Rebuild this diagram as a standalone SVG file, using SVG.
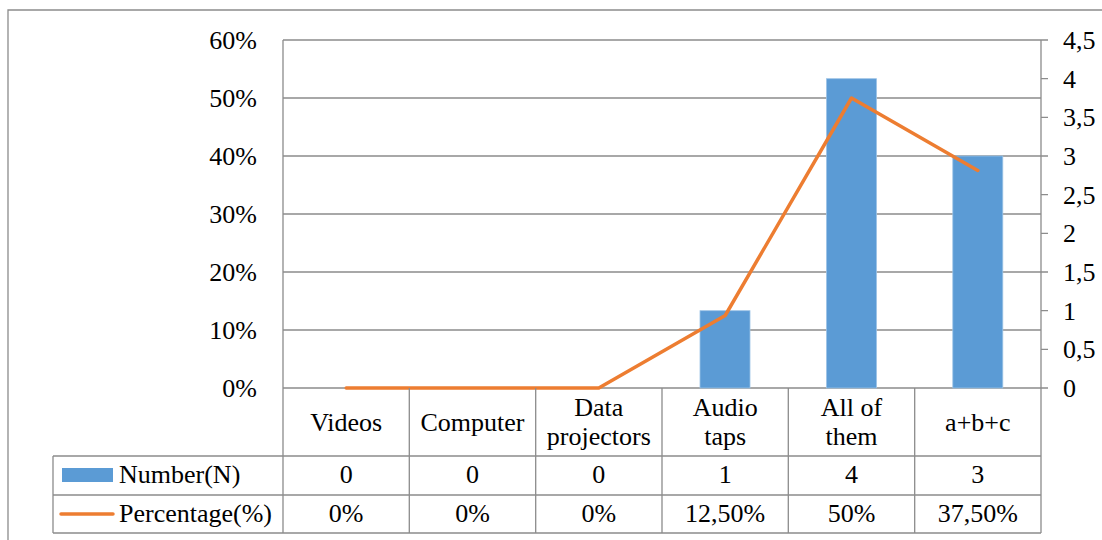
<svg xmlns="http://www.w3.org/2000/svg" width="1102" height="540" viewBox="0 0 1102 540">
<style>
.g{stroke:#8c8c8c;stroke-width:1.3;fill:none}
.t{font-family:'Liberation Serif','Times New Roman',Times,'DejaVu Serif',serif;font-size:26px;fill:#000}
.m{text-anchor:middle}
.e{text-anchor:end}
.bar{fill:#5b9bd5;stroke:#9cc3e6;stroke-width:0.8}
.ln{stroke:#ed7d31;stroke-width:3.5;fill:none;stroke-linejoin:round;stroke-linecap:round}
</style>
<rect x="0" y="0" width="1102" height="540" fill="#fff"/>
<g id="frame">
<path class="g" d="M8,540 V10 H1102"/>
</g>
<g id="grid">
<path class="g" d="M283,40 H1041 M283,98 H1041 M283,156 H1041 M283,214 H1041 M283,272 H1041 M283,330 H1041 M283,388 H1048"/>
<path class="g" d="M283,40 V533 M1041,40 V533"/>
<path class="g" d="M1041,78.7 H1048 M1041,117.3 H1048 M1041,156 H1048 M1041,194.7 H1048 M1041,233.3 H1048 M1041,272 H1048 M1041,310.7 H1048 M1041,349.3 H1048 M1041,40 H1048"/>
</g>
<g id="left-axis" class="t e">
<text x="257" y="49">60%</text>
<text x="257" y="107">50%</text>
<text x="257" y="165">40%</text>
<text x="257" y="223">30%</text>
<text x="257" y="281">20%</text>
<text x="257" y="339">10%</text>
<text x="257" y="397">0%</text>
</g>
<g id="right-axis" class="t">
<text x="1063" y="49">4,5</text>
<text x="1063" y="87.7">4</text>
<text x="1063" y="126.3">3,5</text>
<text x="1063" y="165">3</text>
<text x="1063" y="203.7">2,5</text>
<text x="1063" y="242.3">2</text>
<text x="1063" y="281">1,5</text>
<text x="1063" y="319.7">1</text>
<text x="1063" y="358.3">0,5</text>
<text x="1063" y="397">0</text>
</g>
<g id="bars">
<rect class="bar" x="700" y="310.7" width="50" height="77.3"/>
<rect class="bar" x="826.5" y="78.7" width="50" height="309.3"/>
<rect class="bar" x="952.8" y="156" width="50" height="232"/>
</g>
<g id="connectors">
<polyline class="ln" points="346.2,388 472.5,388 598.8,388 725.2,315.5 851.5,98 977.8,170.5"/>
</g>
<g id="table">
<path class="g" d="M409.3,388 V533 M535.7,388 V533 M662,388 V533 M788.3,388 V533 M914.7,388 V533"/>
<path class="g" d="M53,456 H1041 M53,495 H1041 M53,533 H1041 M53,456 V533"/>
</g>
<g id="headers" class="t m">
<text x="346.2" y="431">Videos</text>
<text x="472.5" y="431">Computer</text>
<text x="598.8" y="416">Data</text>
<text x="598.8" y="445">projectors</text>
<text x="725.2" y="416">Audio</text>
<text x="725.2" y="445">taps</text>
<text x="851.5" y="416">All of</text>
<text x="851.5" y="445">them</text>
<text x="977.8" y="431">a+b+c</text>
</g>
<g id="legend">
<rect x="62" y="468" width="51" height="14" fill="#5b9bd5"/>
<text class="t" x="119" y="483">Number(N)</text>
<line x1="61" y1="514" x2="113" y2="514" class="ln" stroke-linecap="butt"/>
<text class="t" x="119" y="522">Percentage(%)</text>
</g>
<g id="row-number" class="t m">
<text x="346.2" y="483">0</text>
<text x="472.5" y="483">0</text>
<text x="598.8" y="483">0</text>
<text x="725.2" y="483">1</text>
<text x="851.5" y="483">4</text>
<text x="977.8" y="483">3</text>
</g>
<g id="row-percentage" class="t m">
<text x="346.2" y="522">0%</text>
<text x="472.5" y="522">0%</text>
<text x="598.8" y="522">0%</text>
<text x="725.2" y="522">12,50%</text>
<text x="851.5" y="522">50%</text>
<text x="977.8" y="522">37,50%</text>
</g>
</svg>
